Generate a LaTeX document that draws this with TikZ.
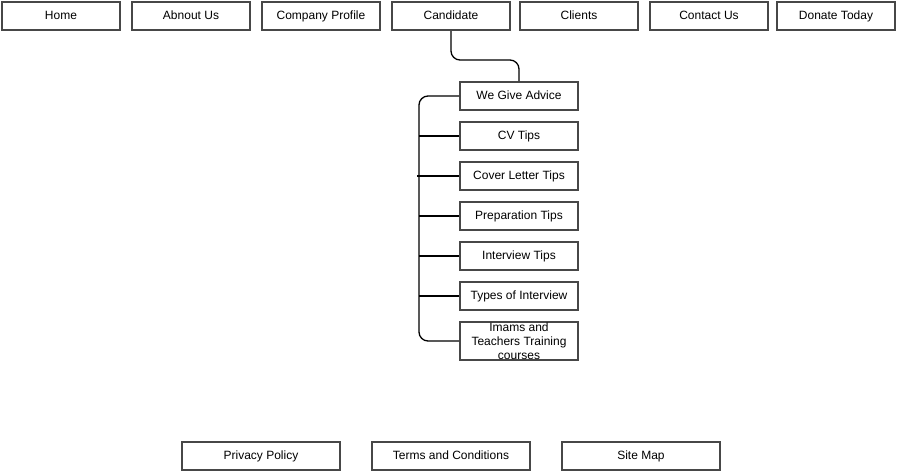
\documentclass[tikz,border=0pt]{standalone}
\usepackage{fontspec}
\setmainfont{Liberation Sans}
\usetikzlibrary{positioning,calc}

\begin{document}
\begin{tikzpicture}[x=1pt,y=-1pt]

\tikzset{page/.style = {shape=rectangle,draw=black!72,line width=2pt,fill=white,minimum width=118pt,minimum height=28pt,inner sep=0pt,text height=8.6pt,text depth=2.4pt,font=\fontsize{12}{14}\selectfont}}
\tikzset{footer/.style = {page,minimum width=158pt}}
\tikzset{link/.style = {draw=black,line width=1.3pt}}
\useasboundingbox (0,0) rectangle (897,472);

% top menu
\node[page] (home) at (61,16) {Home};
\node[page] (about) at (191,16) {Abnout Us};
\node[page] (profile) at (321,16) {Company Profile};
\node[page] (cand) at (451,16) {Candidate};
\node[page] (clients) at (579,16) {Clients};
\node[page] (contact) at (709,16) {Contact Us};
\node[page] (donate) at (836,16) {Donate Today};

% candidate sub pages
\node[page] (advice) at (519,96) {We Give Advice};
\node[page] (cv) at (519,136) {CV Tips};
\node[page] (cover) at (519,176) {Cover Letter Tips};
\node[page] (prep) at (519,216) {Preparation Tips};
\node[page] (interview) at (519,256) {Interview Tips};
\node[page] (types) at (519,296) {Types of Interview};
\node[page,minimum height=38pt,text height=,text depth=,align=center,font=\fontsize{12}{14}\selectfont] (imams) at (519,341) {Imams and\\Teachers Training\\courses};

% footer
\node[footer] (privacy) at (261,456) {Privacy Policy};
\node[footer] (terms) at (451,456) {Terms and Conditions};
\node[footer] (sitemap) at (641,456) {Site Map};

%edges
\coordinate (spine) at (419,0);
\draw[link] (cand.south) [rounded corners=9pt] |- ([yshift=21pt]advice.north) [sharp corners] -- (advice.north);
\draw[link,rounded corners=9pt] (advice.west) -| ($(spine |- advice.west)!.5!(spine |- imams.west)$) |- (imams.west);
\draw[link] (cv.west) -- (cv.west -| spine);
\draw[link] (cover.west) -- ([xshift=-2pt]cover.west -| spine);
\draw[link] (prep.west) -- (prep.west -| spine);
\draw[link] (interview.west) -- (interview.west -| spine);
\draw[link] (types.west) -- (types.west -| spine);

\end{tikzpicture}
\end{document}
